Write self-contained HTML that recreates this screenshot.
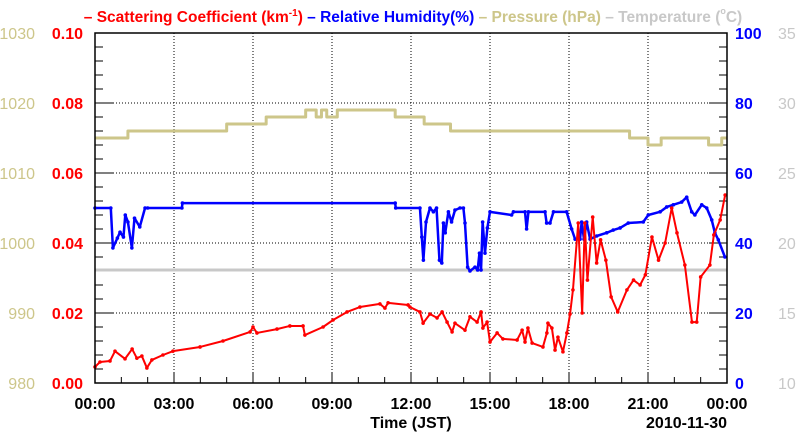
<!DOCTYPE html>
<html><head><meta charset="utf-8"><style>
html,body{margin:0;padding:0;background:#fff;}
svg{display:block;font-family:"Liberation Sans",sans-serif;}
</style></head><body>
<svg id="chart" width="800" height="434"></svg>
<script>
const scatHours=[0,0.19,0.57,0.76,1.14,1.41,1.59,1.78,1.97,2.16,2.58,2.96,3.99,4.86,5.89,6.0,6.15,6.91,7.4,7.9,7.97,8.66,9.04,9.57,10.06,10.82,11.01,11.13,11.89,11.96,12.34,12.46,12.72,12.99,13.18,13.37,13.56,13.67,14.05,14.24,14.51,14.66,14.73,14.89,15.0,15.27,15.49,16.03,16.22,16.33,16.44,16.6,17.01,17.16,17.2,17.35,17.47,17.58,17.77,17.92,18.04,18.15,18.35,18.5,18.6,18.7,18.9,19.05,19.2,19.4,19.6,19.85,20.2,20.45,20.7,20.9,21.15,21.4,21.65,21.9,22.1,22.4,22.67,22.85,23,23.35,23.5,23.74,23.93];
const scatValues=[0.0046,0.006,0.0063,0.0091,0.0069,0.0097,0.0071,0.0077,0.0043,0.0066,0.008,0.0091,0.0103,0.012,0.0146,0.016,0.0143,0.0154,0.0163,0.0163,0.0137,0.016,0.018,0.0203,0.0217,0.0226,0.0214,0.0229,0.0223,0.0217,0.0203,0.0171,0.0197,0.0186,0.0203,0.0174,0.0146,0.0171,0.0151,0.0189,0.0174,0.0203,0.0157,0.0174,0.0117,0.0143,0.0126,0.0123,0.0151,0.0117,0.0157,0.0114,0.0103,0.0143,0.0171,0.0157,0.0094,0.0131,0.0089,0.0143,0.0197,0.0266,0.0457,0.02,0.0457,0.0294,0.0474,0.0343,0.0409,0.0351,0.0246,0.0203,0.0266,0.0294,0.028,0.0309,0.0417,0.0351,0.04,0.05,0.0429,0.0337,0.0174,0.0174,0.0303,0.0337,0.0423,0.0466,0.0537];
const rhHours=[0,0.6,0.68,0.85,0.95,1.08,1.15,1.25,1.4,1.5,1.7,1.9,2,3.3,3.32,11.4,11.42,12.34,12.41,12.47,12.57,12.72,12.85,12.97,13.08,13.17,13.23,13.3,13.42,13.54,13.67,13.86,13.99,14.05,14.15,14.24,14.43,14.53,14.6,14.66,14.72,14.81,14.9,15.0,15.82,15.89,16.33,16.39,16.46,17.09,17.15,17.28,17.41,17.91,18.1,18.23,18.42,18.48,18.57,18.67,18.8,19.05,19.43,19.68,19.94,20.25,20.82,21.01,21.46,21.71,21.96,22.28,22.47,22.66,22.78,23.04,23.23,23.42,23.54,23.67,23.92];
const rhValues=[50,50,38.6,41.4,43.1,41.7,48,46,38.6,47.1,44.6,50,50,50,51.4,51.4,50,50,41.7,35.1,46,50,48.9,50,35.1,34.3,45.7,42.9,48.9,46,49.4,50,50,45.7,33.1,32,33.1,32.3,37.1,32.3,46,37.1,44.3,48.9,48,48.9,48.9,44,48.9,48.9,45.7,45.7,48.9,48.9,44,41.1,41.1,46,41.1,46,41.1,42,42.9,43.7,44.3,45.7,46,48,48.9,50.3,50.9,51.7,53.1,48.9,48,50.9,50,46.6,42.9,40.9,36];
const presHours=[0,1.25,5,6.5,8,8.4,8.6,8.8,9.2,11.4,12.5,13.5,20.3,21,21.5,23.3,23.8,24];
const presValues=[1015,1016,1017,1018,1019,1018,1019,1018,1019,1018,1017,1016,1015,1014,1015,1014,1015,1015];
const tempHours=[0,24];
const tempValues=[18.07,18.07];
const xTickLabels=["00:00","03:00","06:00","09:00","12:00","15:00","18:00","21:00","00:00"];
const scatTicks=["0.00","0.02","0.04","0.06","0.08","0.10"];
const rhTicks=["0","20","40","60","80","100"];
const presTicks=["980","990","1000","1010","1020","1030"];
const tempTicks=["10","15","20","25","30","35"];

const L=95,R=727,T=33,B=383;
const X=h=>L+(R-L)*h/24;
const YS=v=>B-(B-T)*v/0.1;
const YR=v=>B-(B-T)*v/100;
const YP=v=>B-(B-T)*(v-980)/50;
const YT=v=>B-(B-T)*(v-10)/25;
const svg=document.getElementById('chart');
const NS='http://www.w3.org/2000/svg';
function mk(tag,attrs,parent){const e=document.createElementNS(NS,tag);for(const k in attrs)e.setAttribute(k,attrs[k]);(parent||svg).appendChild(e);return e;}
function txt(s,x,y,fill,anchor,size,weight,name){const t=mk('text',{x:x,y:y,fill:fill,'text-anchor':anchor,'font-size':size,'font-weight':weight});t.textContent=s;


return t;}

for(let i=1;i<8;i++){const l=mk('line',{x1:X(i*3),x2:X(i*3),y1:T,y2:B,stroke:'#000','stroke-width':1,'stroke-dasharray':'1,2'});

}
for(let i=1;i<5;i++){const l=mk('line',{x1:L,x2:R,y1:YS(i*0.02),y2:YS(i*0.02),stroke:'#000','stroke-width':1,'stroke-dasharray':'1,2'});

}
for(let i=1;i<24;i++){const len=i%3?6:10;const l=mk('line',{x1:X(i),x2:X(i),y1:B,y2:B-len,stroke:'#000','stroke-width':1});

}
for(let i=1;i<25;i++){const len=i%5?8:18;
const a=mk('line',{x1:L,x2:L+len,y1:B-i*14,y2:B-i*14,stroke:'#000','stroke-width':1});


const b=mk('line',{x1:R,x2:R-len,y1:B-i*14,y2:B-i*14,stroke:'#000','stroke-width':1});

}

function poly(hs,vs,yf,color,w,name,dots,step){let pts=[];for(let i=0;i<hs.length;i++){if(step&&i>0)pts.push(X(hs[i])+','+yf(vs[i-1]));pts.push(X(hs[i])+','+yf(vs[i]));}
const p=mk('polyline',{points:pts.join(' '),fill:'none',stroke:color,'stroke-width':w,'stroke-linejoin':'round'});


if(dots){for(let i=0;i<hs.length;i++){const c=mk('circle',{cx:X(hs[i]),cy:yf(vs[i]),r:1.8,fill:color});

}}}
poly(tempHours,tempValues,YT,'#c8c8c8',3,'temperature-line',false,false);
poly(presHours,presValues,YP,'#cdc68a',3,'pressure-line',false,true);
poly(rhHours,rhValues,YR,'#0000ff',2.5,'humidity-line',true,false);
poly(scatHours,scatValues,YS,'#ff0000',2,'scattering-line',true,false);

const fr=mk('rect',{x:L,y:T,width:R-L,height:B-T,fill:'none',stroke:'#000','stroke-width':1.5});



for(let i=0;i<6;i++){const y=YS(i*0.02)+6;
txt(scatTicks[i],83,y,'#ff0000','end',16,'bold','scattering-tick-label');
txt(presTicks[i],35,y,'#cdc68a','end',16,'normal','pressure-tick-label');
txt(rhTicks[i],735,y,'#0000ff','start',16,'bold','humidity-tick-label');
txt(tempTicks[i],778,y,'#c8c8c8','start',16,'normal','temperature-tick-label');}
for(let i=0;i<9;i++)txt(xTickLabels[i],X(i*3),409,'#000','middle',16,'bold','x-tick-label');
txt('Time (JST)',411,428,'#000','middle',16,'bold','x-axis-title');
txt('2010-11-30',727,428,'#000','end',16,'bold','date-label');

const leg=mk('text',{x:413,y:22,'text-anchor':'middle','font-size':15.5,'font-weight':'bold'});


leg.innerHTML='<tspan fill="#ff0000">– Scattering Coefficient (km<tspan font-size="10" dy="-6">-1</tspan><tspan dy="6">) </tspan></tspan><tspan fill="#0000ff">– Relative Humidity(%) </tspan><tspan fill="#cdc68a">– Pressure (hPa) </tspan><tspan fill="#c8c8c8">– Temperature (<tspan font-size="9" dy="-8">o</tspan><tspan dy="8">C)</tspan></tspan>';
</script>
</body></html>
